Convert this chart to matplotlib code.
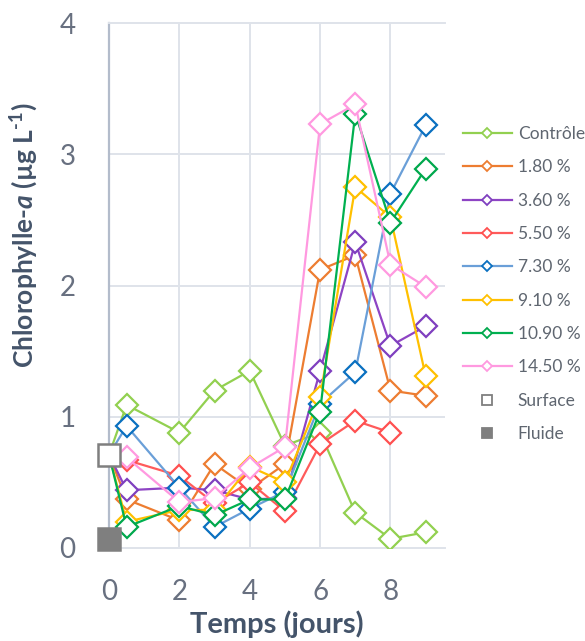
import numpy as np
import matplotlib
matplotlib.use("Agg")
import matplotlib.pyplot as plt
from matplotlib.lines import Line2D

# data (day 0 = starting value shared by all series)
days = [0, 0.5, 2, 3, 4, 5, 6, 7, 8, 9]
controle = [0.71, 1.09, 0.88, 1.20, 1.35, 0.78, 0.88, 0.27, 0.07, 0.12]
c_180 = [0.71, 0.37, 0.21, 0.64, 0.45, 0.64, 2.12, 2.23, 1.20, 1.16]
c_360 = [0.71, 0.44, 0.46, 0.44, 0.37, 0.38, 1.35, 2.33, 1.54, 1.69]
c_550 = [0.71, 0.67, 0.55, 0.34, 0.50, 0.28, 0.79, 0.97, 0.88, np.nan]
c_730 = [0.71, 0.93, 0.46, 0.16, 0.30, 0.43, 1.10, 1.34, 2.70, 3.22]
c_910 = [0.71, 0.20, 0.29, 0.29, 0.62, 0.50, 1.15, 2.75, 2.52, 1.31]
c_1090 = [0.71, 0.16, 0.32, 0.25, 0.37, 0.37, 1.04, 3.31, 2.48, 2.89]
c_1450 = [0.71, 0.69, 0.35, 0.38, 0.61, 0.77, 3.23, 3.38, 2.16, 1.99]

labels = ["Contrôle", "1.80 %", "3.60 %", "5.50 %", "7.30 %", "9.10 %", "10.90 %", "14.50 %"]
series = [controle, c_180, c_360, c_550, c_730, c_910, c_1090, c_1450]
line_cols = ["#92d050", "#ed7d31", "#8e44c4", "#ff5b5b", "#6a9fd8", "#ffc000", "#00b050", "#ff99e0"]
edge_cols = ["#92d050", "#ed7d31", "#7f3fbf", "#ff5050", "#0a70c0", "#ffc000", "#00a84c", "#ff99e0"]

surface_day, surface_val = 0, 0.71
fluide_day, fluide_val = 0, 0.07

x_ticks = [0, 2, 4, 6, 8]
y_ticks = [0, 1, 2, 3, 4]

plt.rcParams["font.family"] = ["Lato", "DejaVu Sans"]
plt.rcParams["mathtext.fontset"] = "custom"
plt.rcParams["mathtext.it"] = "Lato:italic:bold"
plt.rcParams["mathtext.rm"] = "Lato:bold"

fig = plt.figure(figsize=(5.85, 6.41), dpi=100)
ax = fig.add_axes([109 / 585, 1 - 548 / 641, 336 / 585, 525 / 641])

for vals, lc, ec in zip(series, line_cols, edge_cols):
    ax.plot(days, vals, color=lc, lw=1.6, marker="D", ms=11, mfc="white",
            mec=ec, mew=1.6, markevery=slice(1, None), zorder=3)

# surface / fluid starting points
ax.plot([surface_day], [surface_val], marker="s", ms=15.5, mfc="white", mec="#7f7f7f",
        mew=1.8, ls="none", zorder=5, clip_on=False)
ax.plot([fluide_day], [fluide_val], marker="s", ms=15.5, mfc="#7f7f7f", mec="#7f7f7f",
        mew=1.8, ls="none", zorder=5, clip_on=False)

ax.set_xlim(0, 9.55)
ax.set_ylim(0, 4)
ax.set_xticks(x_ticks)
ax.set_yticks(y_ticks)
ax.grid(True, color="#dfe3ea", lw=1.4)
ax.set_axisbelow(True)
ax.tick_params(length=0, labelsize=20, labelcolor="#687080")
ax.tick_params(axis="x", pad=22)
ax.tick_params(axis="y", pad=24)

ax.spines["right"].set_visible(False)
ax.spines["top"].set_color("#dfe3ea")
ax.spines["top"].set_linewidth(1.4)
ax.spines["bottom"].set_color("#dfe3ea")
ax.spines["bottom"].set_linewidth(1.4)
ax.spines["left"].set_color("#b3bccb")
ax.spines["left"].set_linewidth(1.6)

ax.set_xlabel("Temps (jours)", fontsize=21, fontweight="bold", color="#44546a")
ax.set_ylabel(r"Chlorophylle-$\mathit{a}$ (µg L$^{\text{-1}}$)", fontsize=19,
              fontweight="bold", color="#44546a")
ax.xaxis.set_label_coords(0.5, -0.118)
ax.yaxis.set_label_coords(-0.205, 0.595)

handles = []
for lab, lc, ec in zip(labels, line_cols, edge_cols):
    handles.append(Line2D([], [], color=lc, lw=1.6, marker="D", ms=5, mfc="white",
                          mec=ec, mew=1.3, label=lab))
handles.append(Line2D([], [], ls="none", marker="s", ms=7, mfc="white",
                      mec="#7f7f7f", mew=1.3, label="Surface"))
handles.append(Line2D([], [], ls="none", marker="s", ms=7, mfc="#7f7f7f",
                      mec="#7f7f7f", mew=1.3, label="Fluide"))

leg = fig.legend(handles=handles, loc="center left", bbox_to_anchor=(463 / 585, 1 - 284 / 641),
                 frameon=False, fontsize=12.5, handlelength=2.8, handletextpad=0.35,
                 labelspacing=1.0, borderpad=0, borderaxespad=0)
for t in leg.get_texts():
    t.set_color("#5f6670")

fig.savefig("out.png", dpi=100)
